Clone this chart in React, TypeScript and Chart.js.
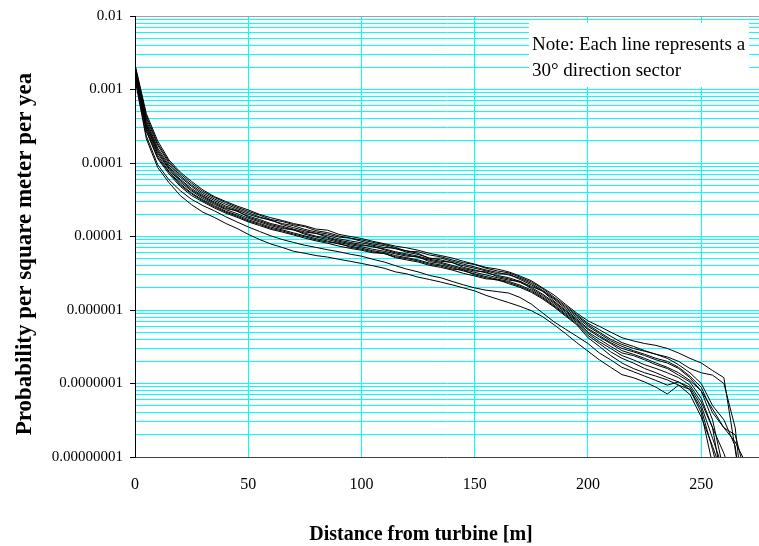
import React, { useEffect, useRef } from 'react';
import { Chart, registerables } from 'chart.js';

Chart.register(...registerables);

// Distance from turbine [m]
const DIST = [
  0, 5, 10, 15, 20, 25, 30, 35, 40, 45,
  50, 55, 60, 65, 70, 75, 80, 85, 90, 95,
  100, 105, 110, 115, 120, 125, 130, 135, 140, 145,
  150, 155, 160, 165, 170, 175, 180, 185, 190, 195,
  200, 205, 210, 215, 220, 225, 230, 235, 240, 245,
  250, 255, 260, 265, 270,
];

const X_TICKS = [0, 50, 100, 150, 200, 250];
const Y_TICK_LABELS = ['0.00000001', '0.0000001', '0.000001', '0.00001', '0.0001', '0.001', '0.01'];
const Y_MIN = 1e-8;
const Y_MAX = 1e-2;
const NOTE_LINES = ['Note: Each line represents a', '30\u00B0 direction sector'];
const X_TITLE = 'Distance from turbine [m]';
const Y_TITLE = 'Probability per square meter per yea';

// Probability per m² per year, one series per 30° direction sector
const SECTOR_000 = [
  2.2e-3, 4.7e-4, 2.0e-4, 1.1e-4, 7.5e-5, 5.6e-5, 4.3e-5, 3.5e-5, 3.0e-5, 2.6e-5,
  2.3e-5, 2.0e-5, 1.8e-5, 1.65e-5, 1.5e-5, 1.4e-5, 1.26e-5, 1.22e-5, 1.07e-5, 1.0e-5,
  9.4e-6, 8.6e-6, 8.0e-6, 7.4e-6, 7.0e-6, 6.5e-6, 5.9e-6, 5.5e-6, 5.1e-6, 4.6e-6,
  4.2e-6, 3.8e-6, 3.6e-6, 3.3e-6, 2.9e-6, 2.5e-6, 2.0e-6, 1.6e-6, 1.2e-6, 9.1e-7,
  7.1e-7, 6.0e-7, 5.0e-7, 4.2e-7, 3.8e-7, 3.5e-7, 3.3e-7, 3.0e-7, 2.6e-7, 2.2e-7,
  1.9e-7, 1.5e-7, 1.2e-7, 1.26e-8, 1.3e-9,
];
const SECTOR_030 = [
  2.1e-3, 4.4e-4, 1.85e-4, 1.05e-4, 7.1e-5, 5.3e-5, 4.1e-5, 3.4e-5, 2.9e-5, 2.5e-5,
  2.2e-5, 1.95e-5, 1.7e-5, 1.6e-5, 1.45e-5, 1.36e-5, 1.2e-5, 1.13e-5, 1.02e-5, 9.5e-6,
  9.0e-6, 8.3e-6, 7.8e-6, 7.1e-6, 6.3e-6, 6.2e-6, 5.6e-6, 5.3e-6, 4.8e-6, 4.4e-6,
  4.15e-6, 3.7e-6, 3.4e-6, 3.2e-6, 2.8e-6, 2.4e-6, 1.95e-6, 1.5e-6, 1.15e-6, 8.7e-7,
  6.6e-7, 5.4e-7, 4.4e-7, 3.6e-7, 3.2e-7, 2.8e-7, 2.5e-7, 2.3e-7, 2.0e-7, 1.6e-7,
  1.4e-7, 1.3e-7, 1.0e-7, 2.5e-8, 1e-9,
];
const SECTOR_060 = [
  2.05e-3, 4.1e-4, 1.75e-4, 1.0e-4, 6.7e-5, 5.0e-5, 3.9e-5, 3.25e-5, 2.75e-5, 2.4e-5,
  2.1e-5, 1.85e-5, 1.65e-5, 1.5e-5, 1.4e-5, 1.25e-5, 1.15e-5, 1.08e-5, 9.8e-6, 9.5e-6,
  8.6e-6, 7.9e-6, 7.5e-6, 6.8e-6, 6.4e-6, 5.9e-6, 5.0e-6, 5.1e-6, 4.6e-6, 4.2e-6,
  3.85e-6, 3.5e-6, 3.25e-6, 3.0e-6, 2.7e-6, 2.3e-6, 1.85e-6, 1.45e-6, 1.1e-6, 8.4e-7,
  6.3e-7, 5.0e-7, 4.0e-7, 3.4e-7, 3.0e-7, 2.75e-7, 2.5e-7, 2.2e-7, 1.8e-7, 1.4e-7,
  1.0e-7, 5.0e-8, 3.2e-8, 1.4e-8, 1e-9,
];
const SECTOR_090 = [
  1.99e-3, 3.8e-4, 1.6e-4, 9.4e-5, 6.4e-5, 4.8e-5, 3.7e-5, 3.1e-5, 2.6e-5, 2.3e-5,
  2.0e-5, 1.8e-5, 1.68e-5, 1.45e-5, 1.32e-5, 1.2e-5, 1.1e-5, 1.03e-5, 9.3e-6, 8.7e-6,
  8.2e-6, 7.6e-6, 7.1e-6, 6.9e-6, 6.1e-6, 5.7e-6, 5.1e-6, 4.8e-6, 4.4e-6, 4.0e-6,
  3.7e-6, 3.4e-6, 3.1e-6, 3.1e-6, 2.6e-6, 2.2e-6, 1.8e-6, 1.4e-6, 1.05e-6, 8.0e-7,
  6.0e-7, 4.8e-7, 3.8e-7, 3.2e-7, 2.8e-7, 2.5e-7, 2.2e-7, 2.0e-7, 1.66e-7, 1.26e-7,
  8.9e-8, 4.0e-8, 2.5e-8, 2.0e-8, 5e-9,
];
const SECTOR_120 = [
  1.91e-3, 3.55e-4, 1.51e-4, 8.9e-5, 6.0e-5, 4.5e-5, 3.55e-5, 2.95e-5, 2.5e-5, 2.2e-5,
  1.9e-5, 1.7e-5, 1.5e-5, 1.38e-5, 1.26e-5, 1.15e-5, 1.1e-5, 9.8e-6, 8.9e-6, 8.3e-6,
  7.8e-6, 7.2e-6, 6.8e-6, 6.2e-6, 5.8e-6, 5.4e-6, 4.9e-6, 4.6e-6, 4.45e-6, 3.8e-6,
  3.5e-6, 3.2e-6, 2.95e-6, 2.75e-6, 2.45e-6, 2.1e-6, 1.8e-6, 1.32e-6, 1.0e-6, 7.6e-7,
  5.6e-7, 4.5e-7, 3.6e-7, 3.0e-7, 2.7e-7, 2.4e-7, 2.1e-7, 1.9e-7, 1.6e-7, 1.2e-7,
  7.9e-8, 3.2e-8, 6.3e-9, 1e-9, 5e-10,
];
const SECTOR_150 = [
  1.85e-3, 3.35e-4, 1.43e-4, 8.5e-5, 5.8e-5, 4.3e-5, 3.45e-5, 2.85e-5, 2.4e-5, 2.25e-5,
  1.83e-5, 1.64e-5, 1.45e-5, 1.33e-5, 1.22e-5, 1.11e-5, 1.01e-5, 9.5e-6, 8.6e-6, 8.0e-6,
  7.5e-6, 7.4e-6, 6.6e-6, 6.0e-6, 5.6e-6, 5.2e-6, 4.75e-6, 4.45e-6, 4.05e-6, 3.67e-6,
  3.4e-6, 3.3e-6, 2.85e-6, 2.65e-6, 2.37e-6, 2.03e-6, 1.64e-6, 1.28e-6, 9.7e-7, 7.3e-7,
  5.4e-7, 4.3e-7, 3.5e-7, 2.8e-7, 2.5e-7, 2.2e-7, 1.9e-7, 1.66e-7, 1.4e-7, 1.1e-7,
  7.9e-8, 4.5e-8, 2.5e-8, 1.6e-8, 7.9e-9,
];
const SECTOR_180 = [
  1.81e-3, 3.2e-4, 1.36e-4, 8.2e-5, 5.5e-5, 4.15e-5, 3.3e-5, 2.75e-5, 2.33e-5, 2.05e-5,
  1.77e-5, 1.58e-5, 1.4e-5, 1.28e-5, 1.24e-5, 1.07e-5, 9.8e-6, 9.1e-6, 8.3e-6, 7.7e-6,
  7.25e-6, 6.7e-6, 6.3e-6, 5.8e-6, 5.4e-6, 5.3e-6, 4.55e-6, 4.3e-6, 3.9e-6, 3.55e-6,
  3.25e-6, 3.0e-6, 2.75e-6, 2.55e-6, 2.45e-6, 1.95e-6, 1.58e-6, 1.23e-6, 9.3e-7, 7.1e-7,
  5.0e-7, 4.0e-7, 3.2e-7, 2.6e-7, 2.4e-7, 2.1e-7, 1.8e-7, 1.6e-7, 1.3e-7, 1.05e-7,
  6.3e-8, 2.5e-8, 3.2e-9, 6e-10, 3e-10,
];
const SECTOR_210 = [
  1.74e-3, 3.0e-4, 1.27e-4, 7.7e-5, 5.2e-5, 3.9e-5, 3.15e-5, 2.63e-5, 2.22e-5, 1.96e-5,
  1.69e-5, 1.51e-5, 1.34e-5, 1.23e-5, 1.12e-5, 1.02e-5, 9.35e-6, 8.7e-6, 7.9e-6, 7.4e-6,
  6.95e-6, 6.4e-6, 6.05e-6, 5.5e-6, 5.15e-6, 4.8e-6, 4.35e-6, 4.1e-6, 3.75e-6, 3.4e-6,
  3.1e-6, 2.85e-6, 2.63e-6, 2.45e-6, 2.18e-6, 1.87e-6, 1.51e-6, 1.17e-6, 8.9e-7, 6.8e-7,
  4.8e-7, 3.7e-7, 3.0e-7, 2.4e-7, 2.1e-7, 1.8e-7, 1.6e-7, 1.4e-7, 1.2e-7, 9.5e-8,
  5.6e-8, 2.5e-8, 1.12e-8, 4.0e-9, 5e-10,
];
const SECTOR_240 = [
  1.7e-3, 2.8e-4, 1.19e-4, 7.5e-5, 5.0e-5, 3.8e-5, 3.05e-5, 2.54e-5, 2.15e-5, 1.89e-5,
  1.63e-5, 1.46e-5, 1.29e-5, 1.19e-5, 1.08e-5, 9.9e-6, 9.0e-6, 8.4e-6, 8.1e-6, 7.15e-6,
  6.7e-6, 6.2e-6, 5.85e-6, 5.3e-6, 5.0e-6, 4.65e-6, 4.2e-6, 3.95e-6, 3.6e-6, 3.5e-6,
  3.0e-6, 2.75e-6, 2.54e-6, 2.37e-6, 2.1e-6, 1.8e-6, 1.46e-6, 1.13e-6, 8.6e-7, 6.5e-7,
  4.5e-7, 3.5e-7, 2.7e-7, 2.2e-7, 1.9e-7, 1.6e-7, 1.4e-7, 1.2e-7, 1.05e-7, 8.3e-8,
  4.0e-8, 7.9e-9, 1e-9, 5e-10, 3e-10,
];
const SECTOR_270 = [
  1.64e-3, 2.7e-4, 1.15e-4, 7.1e-5, 4.8e-5, 3.6e-5, 2.95e-5, 2.45e-5, 2.08e-5, 1.83e-5,
  1.58e-5, 1.41e-5, 1.25e-5, 1.15e-5, 1.05e-5, 9.5e-6, 8.7e-6, 8.1e-6, 7.4e-6, 6.9e-6,
  6.5e-6, 6.0e-6, 5.9e-6, 5.15e-6, 4.8e-6, 4.5e-6, 4.05e-6, 3.8e-6, 3.5e-6, 3.15e-6,
  2.9e-6, 2.65e-6, 2.6e-6, 2.28e-6, 2.03e-6, 1.74e-6, 1.41e-6, 1.1e-6, 8.3e-7, 6.3e-7,
  4.2e-7, 3.2e-7, 2.4e-7, 1.9e-7, 1.6e-7, 1.4e-7, 1.26e-7, 1.12e-7, 9.5e-8, 7.1e-8,
  3.5e-8, 1.4e-8, 5e-9, 1e-9, 5e-10,
];
const SECTOR_300 = [
  1.51e-3, 2.34e-4, 9.5e-5, 5.9e-5, 4.2e-5, 3.2e-5, 2.63e-5, 2.24e-5, 1.86e-5, 1.58e-5,
  1.35e-5, 1.17e-5, 1.02e-5, 9.1e-6, 8.3e-6, 7.6e-6, 7.1e-6, 6.6e-6, 6.2e-6, 5.75e-6,
  5.4e-6, 4.9e-6, 4.5e-6, 4.0e-6, 3.6e-6, 3.3e-6, 2.95e-6, 2.75e-6, 2.45e-6, 2.2e-6,
  2.0e-6, 1.86e-6, 1.78e-6, 1.7e-6, 1.48e-6, 1.2e-6, 9.1e-7, 6.9e-7, 5.5e-7, 4.4e-7,
  3.5e-7, 2.6e-7, 2.1e-7, 1.66e-7, 1.45e-7, 1.26e-7, 1.1e-7, 9.5e-8, 1.05e-7, 8.9e-8,
  5.0e-8, 1.8e-8, 6.3e-9, 1e-9, 5e-10,
];
const SECTOR_330 = [
  1.38e-3, 2.14e-4, 8.7e-5, 5.4e-5, 3.6e-5, 2.7e-5, 2.14e-5, 1.82e-5, 1.51e-5, 1.29e-5,
  1.07e-5, 9.1e-6, 7.9e-6, 7.1e-6, 6.3e-6, 5.9e-6, 5.5e-6, 5.25e-6, 4.9e-6, 4.6e-6,
  4.3e-6, 4.0e-6, 3.7e-6, 3.3e-6, 3.1e-6, 2.8e-6, 2.6e-6, 2.4e-6, 2.2e-6, 2.0e-6,
  1.82e-6, 1.58e-6, 1.41e-6, 1.26e-6, 1.12e-6, 9.8e-7, 8.1e-7, 6.3e-7, 4.8e-7, 3.6e-7,
  2.75e-7, 2.1e-7, 1.66e-7, 1.32e-7, 1.2e-7, 1.05e-7, 8.9e-8, 7.2e-8, 9.5e-8, 8.3e-8,
  4.5e-8, 1.26e-8, 3.2e-9, 1e-9, 5e-10,
];

const SECTORS = [
  SECTOR_000, SECTOR_030, SECTOR_060, SECTOR_090, SECTOR_120, SECTOR_150,
  SECTOR_180, SECTOR_210, SECTOR_240, SECTOR_270, SECTOR_300, SECTOR_330,
];
const SECTOR_NAMES = ['0°', '30°', '60°', '90°', '120°', '150°', '180°', '210°', '240°', '270°', '300°', '330°'];

const SERIF = "'Liberation Serif', 'Times New Roman', serif";

function decadeOf(v: number): number | null {
  const e = Math.log10(v);
  const r = Math.round(e);
  return Math.abs(e - r) < 1e-6 ? r : null;
}

export default function App() {
  const ref = useRef<HTMLCanvasElement>(null);

  useEffect(() => {
    const canvas = ref.current;
    if (!canvas) return;

    const overlay = {
      id: 'overlay',
      afterDraw(chart: any) {
        const ctx = chart.ctx as CanvasRenderingContext2D;
        ctx.save();
        // note box
        ctx.fillStyle = '#ffffff';
        ctx.fillRect(529, 23, 220, 64);
        ctx.fillStyle = '#000000';
        ctx.font = `19px ${SERIF}`;
        ctx.textAlign = 'left';
        ctx.textBaseline = 'alphabetic';
        ctx.fillText(NOTE_LINES[0], 532, 50);
        ctx.fillText(NOTE_LINES[1], 532, 76);
        // x title
        ctx.font = `bold 20px ${SERIF}`;
        ctx.textAlign = 'center';
        ctx.fillText(X_TITLE, 421, 540);
        // y title
        ctx.translate(31, 254);
        ctx.rotate(-Math.PI / 2);
        ctx.font = `bold 23px ${SERIF}`;
        ctx.textAlign = 'center';
        ctx.fillText(Y_TITLE, 0, 0);
        ctx.restore();
      },
    };

    const chart = new Chart(canvas, {
      type: 'line',
      data: {
        datasets: SECTORS.map((arr, k) => ({
          label: SECTOR_NAMES[k],
          data: arr.map((v, i) => ({ x: DIST[i], y: v })),
          borderColor: '#000000',
          backgroundColor: '#000000',
          borderWidth: 1,
          pointRadius: 0,
          pointHoverRadius: 0,
          fill: false,
          tension: 0,
        })),
      },
      options: {
        responsive: false,
        animation: false,
        devicePixelRatio: 1,
        layout: { padding: { top: 15, right: 0, left: 0, bottom: 0 } },
        plugins: {
          legend: { display: false },
          tooltip: { enabled: false },
          title: { display: false },
        },
        scales: {
          x: {
            type: 'linear',
            min: 0,
            max: 275.5,
            afterBuildTicks: (scale: any) => {
              scale.ticks = X_TICKS.map((v) => ({ value: v }));
            },
            afterFit: (scale: any) => {
              scale.height = 89;
            },
            grid: {
              color: (c: any) => (c.tick && c.tick.value === 0 ? 'rgba(0,0,0,0)' : '#00FFFF'),
              lineWidth: 1,
              drawTicks: false,
            },
            border: { color: '#404040', width: 1 },
            ticks: {
              autoSkip: false,
              maxRotation: 0,
              padding: 18,
              color: '#000000',
              font: { family: SERIF, size: 16 },
              callback: (v: any) => String(v),
            },
          },
          y: {
            type: 'logarithmic',
            min: Y_MIN,
            max: Y_MAX,
            afterBuildTicks: (scale: any) => {
              const ticks: any[] = [];
              for (let e = -8; e <= -3; e++) {
                for (let m = 1; m <= 9; m++) {
                  ticks.push({ value: m * Math.pow(10, e), major: m === 1 });
                }
              }
              ticks.push({ value: Y_MAX, major: true });
              scale.ticks = ticks;
            },
            afterFit: (scale: any) => {
              scale.width = 135;
            },
            grid: {
              color: (c: any) => {
                const d = c.tick ? decadeOf(c.tick.value) : null;
                if (d === -2) return '#A0A0A0';
                if (d === -8) return 'rgba(0,0,0,0)';
                return '#00FFFF';
              },
              tickColor: (c: any) => (c.tick && decadeOf(c.tick.value) !== null ? '#000000' : 'rgba(0,0,0,0)'),
              tickLength: 5,
              lineWidth: 1,
            },
            border: { color: '#000000', width: 1 },
            ticks: {
              autoSkip: false,
              padding: 7,
              color: '#000000',
              font: { family: SERIF, size: 15 },
              callback: (v: any) => {
                const d = decadeOf(Number(v));
                return d === null ? '' : Y_TICK_LABELS[d + 8];
              },
            },
          },
        },
      } as any,
      plugins: [overlay],
    });

    return () => chart.destroy();
  }, []);

  return (
    <div style={{ position: 'fixed', left: 0, top: 0, width: 759, height: 546, background: '#ffffff' }}>
      <canvas ref={ref} width={759} height={546} style={{ display: 'block' }} />
    </div>
  );
}
